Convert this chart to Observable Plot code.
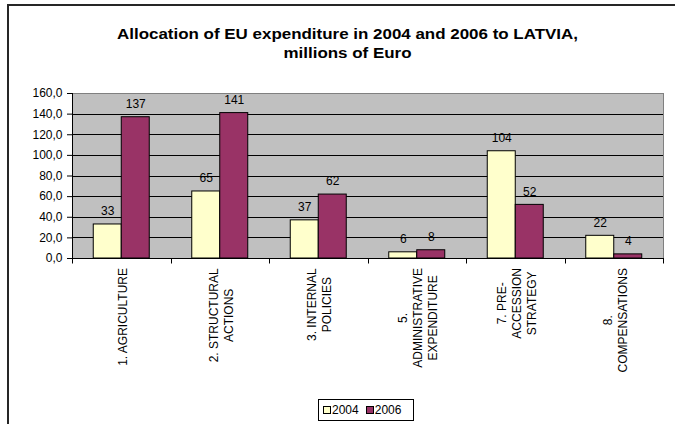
<!DOCTYPE html>
<html>
<head>
<meta charset="utf-8">
<script src="https://cdn.jsdelivr.net/npm/d3@7"></script>
<script src="https://cdn.jsdelivr.net/npm/@observablehq/plot@0.6"></script>
<style>
  html, body { margin: 0; padding: 0; background: #fff; }
  #wrap { position: relative; width: 675px; height: 424px; overflow: hidden; font-family: "Liberation Sans", Arial, sans-serif; }
  #border { position: absolute; left: 7px; top: 4px; width: 720px; height: 500px; border: 2px solid #262626; box-sizing: border-box; }
  #title { position: absolute; left: 0; top: 25px; width: 695px; text-align: center; font-weight: bold; font-size: 14px; line-height: 19px; color: #000; transform: scaleX(1.21); transform-origin: 347.5px 0; }
  #chart { position: absolute; left: 0; top: 0; }
  #legend { position: absolute; left: 318px; top: 399px; width: 96px; height: 22px; box-sizing: border-box; border: 1px solid #000; background: #fff; display: flex; align-items: center; padding-left: 4px; font-size: 12px; color: #000; }
  .sw { width: 8px; height: 8px; box-sizing: border-box; border: 1px solid #000; margin-right: 1px; }
</style>
</head>
<body>
<div id="wrap">
  <div id="border"></div>
  <div id="chart"></div>
  <div id="title">Allocation of EU expenditure in 2004 and 2006 to LATVIA,<br>millions of Euro</div>
  <div id="legend"></div>
</div>
<script>
const categories = [
  "1. AGRICULTURE",
  "2. STRUCTURAL\nACTIONS",
  "3. INTERNAL\nPOLICIES",
  "5.\nADMINISTRATIVE\nEXPENDITURE",
  "7. PRE-\nACCESSION\nSTRATEGY",
  "8.\nCOMPENSATIONS"
];
const years = ["2004", "2006"];
const values2004 = [33, 65, 37, 6, 104, 22];
const values2006 = [137, 141, 62, 8, 52, 4];
const yTicks = [0, 20, 40, 60, 80, 100, 120, 140, 160];
const colors = ["#FFFFCC", "#993366"];

const data = categories.flatMap((c, i) => [
  {cat: c, year: years[0], value: values2004[i]},
  {cat: c, year: years[1], value: values2006[i]}
]);

const fmt = d => d3.format(".1f")(d).replace(".", ",");

const plot = Plot.plot({
  width: 675,
  height: 424,
  marginTop: 93,
  marginBottom: 166,
  marginLeft: 72,
  marginRight: 12,
  style: {fontFamily: "'Liberation Sans', Arial, sans-serif", fontSize: "12px", background: "transparent", color: "#000", overflow: "visible"},
  fx: {domain: categories, paddingInner: 0, paddingOuter: 0, round: false, axis: null, label: null},
  x: {domain: years, paddingInner: 0, paddingOuter: 0.759, round: false, axis: null},
  y: {domain: [0, 160], axis: null},
  color: {domain: years, range: colors},
  marks: [
    Plot.frame({fill: "#C0C0C0", shapeRendering: "crispEdges"}),
    Plot.ruleY(yTicks.slice(1), {stroke: "#000", strokeWidth: 1, shapeRendering: "crispEdges"}),
    Plot.frame({facet: "super", stroke: "#808080"}),
    Plot.axisY({ticks: yTicks, tickFormat: fmt, tickSize: 5, tickPadding: 5, label: null, fontSize: 12, stroke: "#000"}),
    Plot.barY(data, {fx: "cat", x: "year", y: "value", fill: "year", stroke: "#000", strokeWidth: 1}),
    Plot.text(data, {fx: "cat", x: "year", y: "value", text: d => String(d.value), dy: -13, lineAnchor: "middle", textAnchor: "middle", fontSize: 12, fill: "#000"}),
    Plot.frame({facet: "super", anchor: "bottom", stroke: "#000"}),
    Plot.frame({facet: "super", anchor: "left", stroke: "#000"}),
    Plot.text(categories, {fx: d => d, text: d => d, frameAnchor: "bottom", rotate: -90, textAnchor: "middle", lineAnchor: "middle", lineHeight: 1.25, fontSize: 12, fill: "#000"})
  ]
});

document.getElementById("chart").appendChild(plot);

const svg = d3.select(plot);
const fx = plot.scale("fx");
const y = plot.scale("y");
const y0 = y.apply(0);

// position rotated category labels: block top 10px below the axis, lines centred
const svgTop = plot.getBoundingClientRect().top;
svg.selectAll("text").each(function() {
  const t = this.getAttribute("transform") || "";
  if (!/rotate\(\s*-90/.test(t)) return;
  const r = this.getBoundingClientRect();
  const delta = (y0 + 10) - (r.top - svgTop);
  this.setAttribute("transform", `translate(0,${delta}) ${t}`);
});

// category boundary ticks below the axis, from the fx scale
const bounds = categories.map(c => fx.apply(c));
bounds.push(fx.apply(categories[categories.length - 1]) + fx.bandwidth);
const g = svg.append("g").attr("stroke", "#000");
bounds.forEach(b => {
  const xx = Math.round(b) + 0.5;
  g.append("line").attr("x1", xx).attr("x2", xx).attr("y1", y0 + 0.5).attr("y2", y0 + 5.5);
});

// legend
const legend = d3.select("#legend");
years.forEach((yr, i) => {
  legend.append("div").attr("class", "sw").style("background", colors[i]);
  legend.append("span").text(yr).style("margin-right", i === 0 ? "7px" : "0");
});
</script>
</body>
</html>
